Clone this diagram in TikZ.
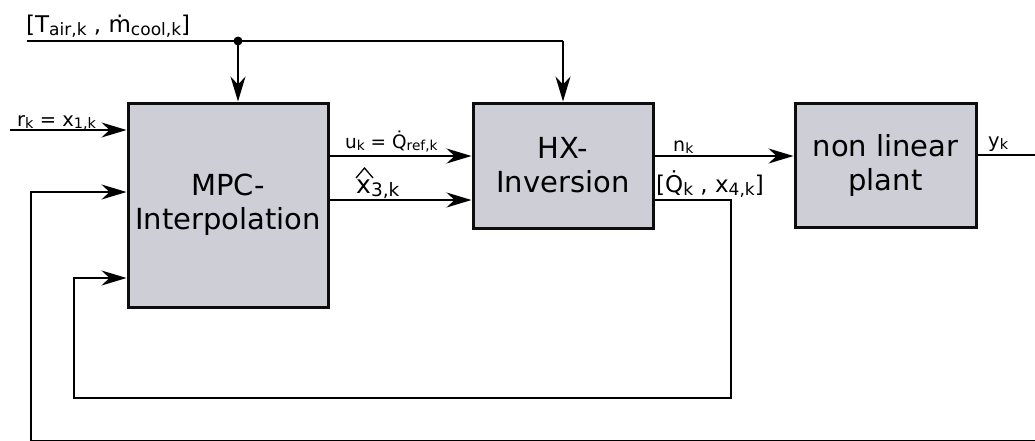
\documentclass[tikz,border=0pt]{standalone}
\usepackage{fontspec}
\usepackage{graphicx}
\setmainfont{DejaVu Sans}
\usetikzlibrary{arrows.meta}
\definecolor{boxfill}{RGB}{205,206,214}
\tikzset{
  block/.style={draw=black!95, line width=3pt, fill=boxfill, inner sep=0pt, align=center, font=\fontsize{29}{34}\selectfont},
  conn/.style={line width=1.4pt},
  arr/.style={conn, -{Stealth[length=25pt,width=15pt,inset=8pt]}},
  lbl/.style={inner sep=0pt, anchor=base west},
  hatstroke/.style={line width=1.3pt, line join=miter},
}
\newcommand{\sub}[1]{\raisebox{-0.15em}{\scalebox{0.74}{#1}}}
\begin{document}
\begin{tikzpicture}[x=1pt,y=-1pt]
\useasboundingbox (0,0) rectangle (1035,440);
% blocks
\node[block, minimum width=200pt, minimum height=204pt] (MPC) at (228,205) {MPC-\\Interpolation};
\node[block, minimum width=180pt, minimum height=125pt] (HX) at (563,165.5) {HX-\\Inversion};
\node[block, minimum width=181pt, minimum height=124pt] (P) at (885.5,165) {non linear\\plant};
% coordinates
\coordinate (tin) at (27,41);
\coordinate (dot) at (238,41);
\coordinate (hxtop) at (563,41);
\coordinate (rin) at (10,130);
\coordinate (lu) at (0,156);
\coordinate (lx) at (0,200);
\coordinate (fb1a) at (731,200);
\coordinate (fb1b) at (731,398);
\coordinate (fb1c) at (74,398);
\coordinate (fb1d) at (74,278);
\coordinate (fb2a) at (1045,155);
\coordinate (fb2b) at (1045,440.3);
\coordinate (fb2c) at (31,440.3);
\coordinate (fb2d) at (31,192);
% top disturbance line
\draw[conn] (tin) -- (hxtop);
\fill (dot) circle (4.5pt);
\draw[arr] (dot) -- (dot |- MPC.north);
\draw[arr] (hxtop) -- (HX.north);
\node[lbl, font=\fontsize{23}{25}\selectfont] (tl) at (26,32) {[T\sub{air,k} , ṁ\sub{cool,k}]};
% reference input
\draw[arr] (rin) -- (rin -| MPC.west);
\node[lbl, font=\fontsize{19.5}{22}\selectfont] (rl) at (17,126) {r\sub{k} = x\sub{1,k}};
% MPC -> HX
\draw[arr] (MPC.east |- lu) -- (HX.west |- lu);
\node[lbl, font=\fontsize{18.5}{21}\selectfont] (ul) at (345,148) {u\sub{k} = \.{Q}\sub{ref,k}};
\draw[arr] (MPC.east |- lx) -- (HX.west |- lx);
\node[lbl, font=\fontsize{25}{27}\selectfont] (xl) at (356,193) {x\sub{3,k}};
\draw[hatstroke] ([shift={(0,-15)}]xl.base west) -- ++(8.5,-10) -- ++(8.5,10);
% HX -> plant
\draw[arr] (HX.east |- lu) -- (P.west |- lu);
\node[lbl, font=\fontsize{19}{21}\selectfont] (nl) at (673,151) {n\sub{k}};
\node[lbl, font=\fontsize{23}{25}\selectfont] (ql) at (656,192) {[\.{Q}\sub{k} , x\sub{4,k}]};
% feedback 1
\draw[arr] (HX.east |- fb1a) -- (fb1a) -- (fb1b) -- (fb1c) -- (fb1d) -- (fb1d -| MPC.west);
% output and feedback 2
\draw[arr] (P.east |- fb2a) -- (fb2a) -- (fb2b) -- (fb2c) -- (fb2d) -- (fb2d -| MPC.west);
\node[lbl, font=\fontsize{19.5}{21}\selectfont] (yl) at (988,147) {y\sub{k}};
\end{tikzpicture}
\end{document}
